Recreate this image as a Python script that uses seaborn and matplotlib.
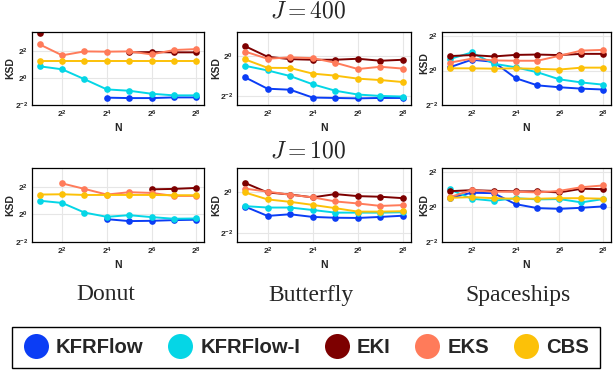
import numpy as np
import pandas as pd
import matplotlib
matplotlib.use("Agg")
import matplotlib.pyplot as plt
from matplotlib.lines import Line2D
from matplotlib.ticker import FixedLocator, FuncFormatter, NullLocator
import seaborn as sns

sns.set_style("white")
plt.rcParams["font.family"] = ["Liberation Sans", "DejaVu Sans"]
plt.rcParams["mathtext.fontset"] = "custom"
plt.rcParams["mathtext.bf"] = "Liberation Sans:bold"
plt.rcParams["mathtext.rm"] = "Liberation Sans"
plt.rcParams["mathtext.it"] = "Liberation Sans:italic"

# ---------------------------------------------------------------- data
# Ensemble sizes N = 2^1 ... 2^8; KSD values stored as log2(KSD)
n_exponents = [1, 2, 3, 4, 5, 6, 7, 8]
methods = ["KFRFlow", "KFRFlow-I", "EKI", "EKS", "CBS"]
datasets = ["Donut", "Butterfly", "Spaceships"]
ensemble_labels = ["$J = 400$", "$J = 100$"]
nan = np.nan

# J = 400
donut_400_kfrflow = [nan, nan, nan, -1.46, -1.49, -1.49, -1.44, -1.44]
donut_400_kfrflow_i = [0.85, 0.63, -0.10, -0.85, -0.95, -1.17, -1.29, -1.29]
donut_400_eki = [3.30, nan, nan, nan, 1.88, 1.90, 1.88, 1.88]
donut_400_eks = [2.46, 1.66, 1.95, 1.93, 1.95, 1.73, 2.05, 2.12]
donut_400_cbs = [1.22, 1.22, 1.22, 1.22, 1.22, 1.22, 1.22, 1.22]

butterfly_400_kfrflow = [-1.07, -1.64, -1.69, -2.08, -2.10, -2.12, -2.10, -2.10]
butterfly_400_kfrflow_i = [-0.50, -0.73, -1.01, -1.42, -1.74, -1.93, -2.00, -2.03]
butterfly_400_eki = [0.48, -0.05, -0.17, -0.20, -0.20, -0.15, -0.25, -0.20]
butterfly_400_eks = [0.21, -0.15, -0.08, -0.12, -0.35, -0.66, -0.55, -0.64]
butterfly_400_cbs = [-0.18, -0.60, -0.61, -0.89, -0.99, -1.14, -1.21, -1.31]

spaceships_400_kfrflow = [0.19, 0.63, 0.51, -0.44, -0.86, -0.97, -1.05, -1.10]
spaceships_400_kfrflow_i = [0.67, 1.05, 0.40, 0.19, -0.10, -0.51, -0.69, -0.82]
spaceships_400_eki = [0.84, 0.90, 0.82, 0.91, 0.93, 0.90, 0.97, 0.97]
spaceships_400_eks = [0.46, 0.69, 0.59, 0.57, 0.57, 0.86, 1.16, 1.20]
spaceships_400_cbs = [0.13, 0.13, 0.11, 0.13, 0.10, 0.06, 0.17, 0.17]

# J = 100
donut_100_kfrflow = [nan, nan, nan, -0.34, -0.48, -0.46, -0.41, -0.38]
donut_100_kfrflow_i = [1.00, 0.84, 0.14, -0.17, -0.05, -0.19, -0.31, -0.29]
donut_100_eki = [nan, nan, nan, nan, nan, 1.83, 1.86, 1.93]
donut_100_eks = [nan, 2.26, 1.86, 1.45, 1.62, 1.57, 1.35, 1.35]
donut_100_cbs = [1.45, 1.47, 1.42, 1.42, 1.42, 1.42, 1.40, 1.40]

butterfly_100_kfrflow = [-0.71, -1.17, -1.09, -1.22, -1.26, -1.27, -1.22, -1.16]
butterfly_100_kfrflow_i = [-0.69, -0.76, -0.76, -0.88, -1.01, -1.01, -1.01, -0.99]
butterfly_100_eki = [0.45, -0.02, -0.12, -0.26, -0.10, -0.20, -0.23, -0.30]
butterfly_100_eks = [0.17, 0.02, -0.13, -0.26, -0.46, -0.56, -0.68, -0.64]
butterfly_100_cbs = [-0.02, -0.36, -0.48, -0.63, -0.79, -0.96, -0.96, -0.94]

spaceships_100_kfrflow = [0.53, 0.82, 0.80, 0.17, -0.06, -0.10, -0.04, 0.04]
spaceships_100_kfrflow_i = [1.01, 0.48, 0.36, 0.51, 0.44, 0.46, 0.27, 0.46]
spaceships_100_eki = [0.91, 0.97, 0.93, 0.90, 0.90, 0.84, 1.05, 1.03]
spaceships_100_eks = [0.57, 0.97, 0.88, 0.88, 0.84, 0.93, 1.14, 1.24]
spaceships_100_cbs = [0.53, 0.57, 0.51, 0.48, 0.48, 0.51, 0.51, 0.48]

panel_series = {
    (0, "Donut"): [donut_400_kfrflow, donut_400_kfrflow_i, donut_400_eki, donut_400_eks, donut_400_cbs],
    (0, "Butterfly"): [butterfly_400_kfrflow, butterfly_400_kfrflow_i, butterfly_400_eki, butterfly_400_eks, butterfly_400_cbs],
    (0, "Spaceships"): [spaceships_400_kfrflow, spaceships_400_kfrflow_i, spaceships_400_eki, spaceships_400_eks, spaceships_400_cbs],
    (1, "Donut"): [donut_100_kfrflow, donut_100_kfrflow_i, donut_100_eki, donut_100_eks, donut_100_cbs],
    (1, "Butterfly"): [butterfly_100_kfrflow, butterfly_100_kfrflow_i, butterfly_100_eki, butterfly_100_eks, butterfly_100_cbs],
    (1, "Spaceships"): [spaceships_100_kfrflow, spaceships_100_kfrflow_i, spaceships_100_eki, spaceships_100_eks, spaceships_100_cbs],
}

palette = {
    "KFRFlow": "#0b3df5",
    "KFRFlow-I": "#05d6e6",
    "EKI": "#7d0000",
    "EKS": "#ff7b5a",
    "CBS": "#fcc108",
}

# per-dataset y range (log2 units)
y_limits = {"Donut": (-2.0, 3.38), "Butterfly": (-2.45, 1.18), "Spaceships": (-2.0, 2.24)}
x_limits = (0.65, 8.35)

# --------------------------------------------------------------- layout
W, H = 613, 375
fig = plt.figure(figsize=(W / 100, H / 100), dpi=100)


def rect(left, top, right, bottom):
    return [left / W, 1 - bottom / H, (right - left) / W, (bottom - top) / H]


col_px = {"Donut": (32, 204), "Butterfly": (237, 411), "Spaceships": (442, 611)}
row_px = [(32, 105), (168, 242)]
ylabel_x = {"Donut": -0.098, "Butterfly": -0.092, "Spaceships": -0.078}


def long_frame(series_list):
    rows = []
    for method, vals in zip(methods, series_list):
        seg = 0
        prev_missing = True
        for e, v in zip(n_exponents, vals):
            if np.isnan(v):
                prev_missing = True
                continue
            if prev_missing:
                seg += 1
            prev_missing = False
            rows.append({"method": method, "N": 2.0 ** e, "KSD": 2.0 ** v, "seg": seg})
    return pd.DataFrame(rows)


pow2_fmt = FuncFormatter(lambda v, pos: r"$\mathbf{2^{%d}}$" % int(round(np.log2(v))))

for r in range(2):
    for name in datasets:
        l, rr = col_px[name]
        t, b = row_px[r]
        ax = fig.add_axes(rect(l, t, rr, b))
        df = long_frame(panel_series[(r, name)])
        sns.lineplot(
            data=df, x="N", y="KSD", hue="method", hue_order=methods,
            units="seg", estimator=None, palette=palette, marker="o",
            markersize=4.8, markeredgewidth=0, linewidth=1.4,
            legend=False, ax=ax,
        )
        ax.set_xscale("log", base=2)
        ax.set_yscale("log", base=2)
        ax.set_xlim(2.0 ** x_limits[0], 2.0 ** x_limits[1])
        lo, hi = y_limits[name]
        ax.set_ylim(2.0 ** lo, 2.0 ** hi)
        ax.xaxis.set_major_locator(FixedLocator([4, 16, 64, 256]))
        ax.yaxis.set_major_locator(FixedLocator([0.25, 1, 4]))
        ax.xaxis.set_minor_locator(NullLocator())
        ax.yaxis.set_minor_locator(NullLocator())
        ax.xaxis.set_major_formatter(pow2_fmt)
        ax.yaxis.set_major_formatter(pow2_fmt)
        ax.tick_params(axis="both", which="major", labelsize=6, length=2,
                       width=0.6, pad=1, color="#333333")
        ax.grid(True, color="#e6e6e6", linewidth=0.8)
        ax.set_axisbelow(True)
        for sp in ax.spines.values():
            sp.set_color("black")
            sp.set_linewidth(0.9)
        ax.set_xlabel("N", fontsize=7.5, fontweight="bold", labelpad=2)
        ax.set_ylabel("KSD", fontsize=7.5, fontweight="bold")
        ax.yaxis.set_label_coords(ylabel_x[name], 0.57 if (name == "Spaceships" and r == 0) else 0.5)

# ensemble size headings
fig.text(308 / W, 1 - 12 / H, ensemble_labels[0], ha="center", va="center",
         fontsize=17, math_fontfamily="cm")
fig.text(308 / W, 1 - 151 / H, ensemble_labels[1], ha="center", va="center",
         fontsize=17, math_fontfamily="cm")

# dataset names
for name, cx in zip(datasets, [106, 311, 518]):
    fig.text(cx / W, 1 - 295 / H, name, ha="center", va="center",
             fontsize=17, family="Liberation Serif")

# shared legend
handles = [Line2D([], [], marker="o", linestyle="", markersize=18,
                  markerfacecolor=palette[m], markeredgewidth=0) for m in methods]
leg = fig.legend(
    handles, methods, loc="center", bbox_to_anchor=(306 / W, 1 - 347.5 / H),
    ncol=5, frameon=True, fancybox=False, edgecolor="black", framealpha=1,
    prop={"family": "Liberation Sans", "weight": "bold", "size": 14.6},
    handlelength=1.2, handletextpad=0.4, columnspacing=1.2, borderpad=0.55,
)
leg.get_frame().set_linewidth(1.0)

fig.savefig("out.png", dpi=100, facecolor="white")
